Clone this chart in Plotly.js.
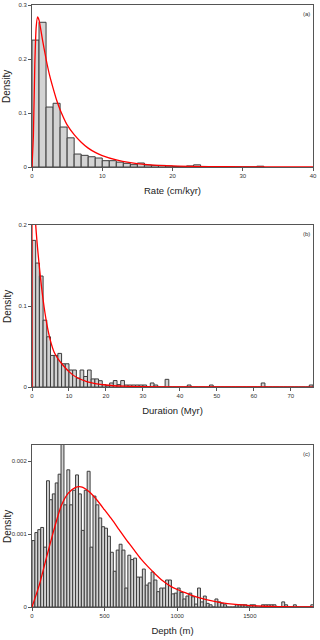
<!DOCTYPE html>
<html>
<head>
<meta charset="utf-8">
<script src="https://cdn.plot.ly/plotly-3.0.1.min.js"></script>
<style>
  html, body { margin: 0; padding: 0; background: #fff; }
  #plot { width: 320px; height: 640px; }
</style>
</head>
<body>
<div id="plot"></div>
<script>
// (a) rate histogram, 1 cm/kyr bins starting at 0
var rateBin = 1;
var rateDensity = [0.235, 0.268, 0.111, 0.118, 0.074, 0.054, 0.024, 0.0216, 0.019, 0.0166,
  0.0117, 0.0117, 0.009, 0.0068, 0.0043, 0.0074, 0.0037, 0.003, 0.003, 0.0018,
  0.001, 0.0006, 0.002, 0.004, 0.001, 0, 0, 0, 0, 0, 0, 0, 0.0015];
var rateFitX = [0, 0.2, 0.4, 0.6, 0.8, 1.0, 1.5, 2, 2.5, 3, 3.5, 4, 5, 6, 7, 8, 9, 10, 12, 14, 16, 20, 25, 30, 40];
var rateFitY = [0, 0.06, 0.19, 0.26, 0.278, 0.272, 0.235, 0.2, 0.17, 0.146, 0.124, 0.106, 0.078, 0.06,
  0.046, 0.035, 0.027, 0.021, 0.013, 0.008, 0.005, 0.002, 0.0008, 0.0004, 0.0001];

// (b) duration histogram, 1 Myr bins
var durBin = 1;
var durDensity = [0.181, 0.153, 0.137, 0.0825, 0.062, 0.039, 0.039, 0.0415, 0.0287, 0.0287,
  0.021, 0.021, 0.011, 0.021, 0.013, 0.021, 0.010, 0.010, 0.0078, 0.003,
  0.0016, 0.005, 0.008, 0.003, 0.008, 0.0025, 0.0025, 0.0025, 0.0025, 0.0025,
  0.0025, 0, 0.005, 0.0025, 0, 0, 0.0095, 0, 0, 0,
  0, 0, 0.0025, 0, 0, 0, 0, 0, 0.0025, 0,
  0, 0, 0, 0, 0, 0, 0, 0, 0, 0,
  0, 0, 0.005, 0, 0, 0, 0, 0, 0, 0,
  0, 0, 0, 0, 0, 0.0025];
var durFitX = [0, 0.1, 0.3, 0.6, 1, 2, 3, 4, 5, 6, 7, 8, 10, 12, 15, 20, 25, 30, 40, 76];
var durFitY = [0, 0.26, 0.27, 0.235, 0.2, 0.148, 0.108, 0.078, 0.057, 0.043, 0.035, 0.029,
  0.019, 0.012, 0.0065, 0.0025, 0.001, 0.0005, 0.0001, 0];

// (c) depth histogram, 20 m bins
var depthBin = 20;
var depthDensity = [0.91, 1.02, 1.06, 1.09, 0.82, 1.73, 1.47, 1.55, 1.70, 1.82,
  2.25, 1.40, 1.88, 1.40, 1.60, 1.81, 1.55, 1.05, 1.60, 1.86,
  0.82, 1.52, 1.40, 1.22, 1.10, 1.08, 0.97, 0.75, 0.49, 0.78,
  0.86, 0.78, 0.26, 0.71, 0.65, 0.67, 0.41, 0.41, 0.52, 0.30,
  0.33, 0.48, 0.37, 0.21, 0.26, 0.26, 0.37, 0.37, 0.18, 0.19,
  0.26, 0.20, 0.11, 0.15, 0.19, 0.14, 0.04, 0.26, 0.07, 0.15,
  0.05, 0.03, 0, 0.11, 0.07, 0.05, 0.03, 0, 0, 0,
  0.03, 0.03, 0.03, 0.03, 0, 0.03, 0.03, 0, 0, 0.03,
  0.03, 0.03, 0.03, 0.03, 0, 0, 0.07, 0.03, 0, 0,
  0.03, 0, 0, 0, 0, 0, 0.03];  // x 1e-3
var depthFitX = [0, 50, 100, 150, 200, 250, 300, 325, 350, 400, 450, 500, 550, 600, 650, 700, 750,
  800, 850, 900, 950, 1000, 1050, 1100, 1200, 1300, 1400, 1500, 1600, 1700, 1800, 1935];
var depthFitY = [0, 0.30, 0.68, 1.05, 1.38, 1.56, 1.64, 1.65, 1.64, 1.57, 1.46, 1.33, 1.20, 1.06,
  0.92, 0.79, 0.66, 0.55, 0.45, 0.36, 0.29, 0.24, 0.20, 0.16, 0.10, 0.06, 0.035, 0.02, 0.01,
  0.005, 0.002, 0.001];  // x 1e-3

function scaled(arr) { return arr.map(function (v) { return v / 1000; }); }
function centers(arr, w) { return arr.map(function (v, i) { return i * w + w / 2; }); }

var barStyle = { color: '#d3d3d3', line: { color: '#3c3c3c', width: 1 } };
var fitLine = { color: '#ff0000', width: 1.3, shape: 'spline', smoothing: 0.6 };

var data = [
  { type: 'bar', x: centers(rateDensity, rateBin), y: rateDensity, width: rateBin,
    marker: barStyle, xaxis: 'x', yaxis: 'y' },
  { type: 'scatter', mode: 'lines', x: rateFitX, y: rateFitY, line: fitLine, xaxis: 'x', yaxis: 'y' },
  { type: 'bar', x: centers(durDensity, durBin), y: durDensity, width: durBin,
    marker: barStyle, xaxis: 'x2', yaxis: 'y2' },
  { type: 'scatter', mode: 'lines', x: durFitX, y: durFitY, line: fitLine, xaxis: 'x2', yaxis: 'y2' },
  { type: 'bar', x: centers(depthDensity, depthBin), y: scaled(depthDensity), width: depthBin,
    marker: barStyle, xaxis: 'x3', yaxis: 'y3' },
  { type: 'scatter', mode: 'lines', x: depthFitX, y: scaled(depthFitY), line: fitLine, xaxis: 'x3', yaxis: 'y3' }
];

var font = 'Liberation Sans, Arial, sans-serif';

function ax(extra) {
  var base = {
    showline: true, mirror: true, linecolor: '#555', linewidth: 1,
    ticks: 'outside', ticklen: 3, tickcolor: '#555', tickwidth: 1,
    showgrid: false, zeroline: false, fixedrange: true,
    tickfont: { size: 6, color: '#333', family: font }
  };
  return Object.assign(base, extra);
}
function xt(txt) { return { text: txt, font: { size: 9.5, color: '#222', family: font }, standoff: 9 }; }

var layout = {
  width: 320, height: 640,
  margin: { l: 32, r: 7, t: 5, b: 33 },
  paper_bgcolor: '#fff', plot_bgcolor: '#fff',
  showlegend: false, bargap: 0,
  font: { family: font },
  xaxis: ax({ domain: [0, 1], anchor: 'y', range: [0, 40], tickvals: [0, 10, 20, 30, 40], title: xt('Rate (cm/kyr)') }),
  yaxis: ax({ domain: [0.7309, 1], anchor: 'x', range: [0, 0.3], tickvals: [0, 0.1, 0.2, 0.3] }),
  xaxis2: ax({ domain: [0, 1], anchor: 'y2', range: [0, 76], tickvals: [0, 10, 20, 30, 40, 50, 60, 70], title: xt('Duration (Myr)') }),
  yaxis2: ax({ domain: [0.3654, 0.6346], anchor: 'x2', range: [0, 0.2], tickvals: [0, 0.1, 0.2] }),
  xaxis3: ax({ domain: [0, 1], anchor: 'y3', range: [0, 1935], tickvals: [0, 500, 1000, 1500], title: xt('Depth (m)') }),
  yaxis3: ax({ domain: [0, 0.2691], anchor: 'x3', range: [0, 0.00222], tickvals: [0, 0.001, 0.002], ticktext: ['0', '0.001', '0.002'] }),
  annotations: []
};

var panels = [['(a)', 1], ['(b)', 0.6346], ['(c)', 0.2691]];
panels.forEach(function (p) {
  layout.annotations.push({
    text: p[0], xref: 'paper', yref: 'paper', x: 0.995, y: p[1] - 0.006,
    xanchor: 'right', yanchor: 'top', showarrow: false,
    font: { size: 6, color: '#333', family: font }
  });
});
var yTitleY = [(0.7309 + 1) / 2, (0.3654 + 0.6346) / 2, 0.2691 / 2];
yTitleY.forEach(function (yy) {
  layout.annotations.push({
    text: 'Density', xref: 'paper', yref: 'paper', x: -0.089, y: yy,
    xanchor: 'center', yanchor: 'middle', textangle: -90, showarrow: false,
    font: { size: 10, color: '#222', family: font }
  });
});

Plotly.newPlot('plot', data, layout, { displayModeBar: false, staticPlot: true });
</script>
</body>
</html>
